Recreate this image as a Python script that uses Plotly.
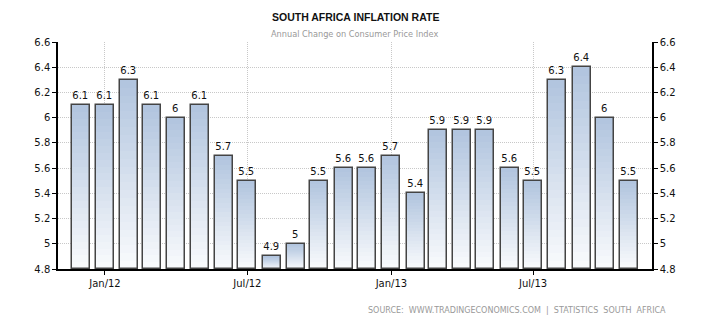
import plotly.graph_objects as go

months = ["2011-12-01", "2012-01-01", "2012-02-01", "2012-03-01", "2012-04-01", "2012-05-01",
          "2012-06-01", "2012-07-01", "2012-08-01", "2012-09-01", "2012-10-01", "2012-11-01",
          "2012-12-01", "2013-01-01", "2013-02-01", "2013-03-01", "2013-04-01", "2013-05-01",
          "2013-06-01", "2013-07-01", "2013-08-01", "2013-09-01", "2013-10-01", "2013-11-01"]
inflation = [6.1, 6.1, 6.3, 6.1, 6.0, 6.1, 5.7, 5.5, 4.9, 5.0, 5.5, 5.6,
             5.6, 5.7, 5.4, 5.9, 5.9, 5.9, 5.6, 5.5, 6.3, 6.4, 6.0, 5.5]
labels = ["6.1", "6.1", "6.3", "6.1", "6", "6.1", "5.7", "5.5", "4.9", "5", "5.5", "5.6",
          "5.6", "5.7", "5.4", "5.9", "5.9", "5.9", "5.6", "5.5", "6.3", "6.4", "6", "5.5"]
x_tickvals = ["2012-01-01", "2012-07-01", "2013-01-01", "2013-07-01"]
x_ticktext = ["Jan/12", "Jul/12", "Jan/13", "Jul/13"]
y_tickvals = [4.8, 5.0, 5.2, 5.4, 5.6, 5.8, 6.0, 6.2, 6.4, 6.6]
y_ticktext = ["4.8", "5", "5.2", "5.4", "5.6", "5.8", "6", "6.2", "6.4", "6.6"]

Y_MIN, Y_MAX = 4.8, 6.6
BAR_W = 23 * 86400000
FONT = "DejaVu Sans"

fig = go.Figure()

# gradient fill: stacked slices per bar, from white at the base to steel blue at the top
N = 24
top_rgb = (176, 196, 222)
bot_rgb = (250, 251, 253)
for k in range(N):
    t = (k + 0.5) / N
    c = tuple(round(bot_rgb[i] + (top_rgb[i] - bot_rgb[i]) * t) for i in range(3))
    fig.add_trace(go.Bar(
        x=months,
        y=[(v - Y_MIN) / N for v in inflation],
        base=[Y_MIN + (v - Y_MIN) * k / N for v in inflation],
        width=BAR_W,
        marker=dict(color="rgb(%d,%d,%d)" % c, line=dict(width=0)),
        hoverinfo="skip", showlegend=False,
    ))

# outline + labels
fig.add_trace(go.Bar(
    x=months,
    y=[v - Y_MIN for v in inflation],
    base=[Y_MIN] * len(inflation),
    width=BAR_W,
    marker=dict(color="rgba(0,0,0,0)", line=dict(color="#444444", width=1.5)),
    text=labels, textposition="outside", cliponaxis=False,
    textfont=dict(family=FONT, size=10, color="#111111"),
    showlegend=False,
))
# invisible trace for right axis
fig.add_trace(go.Scatter(x=[months[0]], y=[Y_MIN], yaxis="y2", mode="markers",
                         marker=dict(opacity=0), showlegend=False, hoverinfo="skip"))

tickfont = dict(family=FONT, size=10, color="#111111")
fig.update_layout(
    width=710, height=325,
    margin=dict(l=58, r=58, t=42, b=56),
    paper_bgcolor="white", plot_bgcolor="white",
    barmode="overlay", bargap=0,
    font=dict(family=FONT, size=10, color="#111111"),
    xaxis=dict(
        type="date", range=["2011-11-02", "2013-11-30"],
        tickvals=x_tickvals, ticktext=x_ticktext,
        ticks="outside", ticklen=4, tickcolor="#000",
        showgrid=True, gridcolor="#c8c8c8", griddash="1px,1px", gridwidth=1,
        showline=True, linecolor="#000", linewidth=1.5,
        tickfont=tickfont, zeroline=False,
    ),
    yaxis=dict(
        range=[Y_MIN, Y_MAX], tickvals=y_tickvals, ticktext=y_ticktext,
        ticks="outside", ticklen=4, tickcolor="#000",
        showgrid=True, gridcolor="#c8c8c8", griddash="1px,1px", gridwidth=1,
        showline=True, linecolor="#000", linewidth=1.5,
        tickfont=tickfont, zeroline=False,
    ),
    yaxis2=dict(
        range=[Y_MIN, Y_MAX], tickvals=y_tickvals, ticktext=y_ticktext,
        overlaying="y", side="right",
        ticks="outside", ticklen=4, tickcolor="#000",
        showgrid=False, showline=True, linecolor="#000", linewidth=1.5,
        tickfont=tickfont, zeroline=False,
    ),
)

# annotations placed by pixel position, converted to paper coordinates
W, H = 710, 325
ml, mr, mt, mb = 58, 58, 42, 56
pw, ph = W - ml - mr, H - mt - mb


def px(xp):
    return (xp - ml) / pw


def py(yp):
    return (H - mb - yp) / ph


fig.add_annotation(text="<b>SOUTH AFRICA INFLATION RATE</b>", x=px(355), y=py(17),
                   xref="paper", yref="paper", showarrow=False, yanchor="middle",
                   font=dict(family="Liberation Sans", size=10.5, color="#111111"))
fig.add_annotation(text="Annual Change on Consumer Price Index", x=px(354), y=py(34),
                   xref="paper", yref="paper", showarrow=False, yanchor="middle",
                   font=dict(family=FONT, size=8.2, color="#999999"))
fig.add_annotation(text="SOURCE:  WWW.TRADINGECONOMICS.COM  |  STATISTICS  SOUTH  AFRICA",
                   x=px(668), y=py(310), xref="paper", yref="paper", showarrow=False,
                   xanchor="right", yanchor="middle",
                   font=dict(family=FONT, size=8, color="#999999"))

fig.write_html("out.html")
